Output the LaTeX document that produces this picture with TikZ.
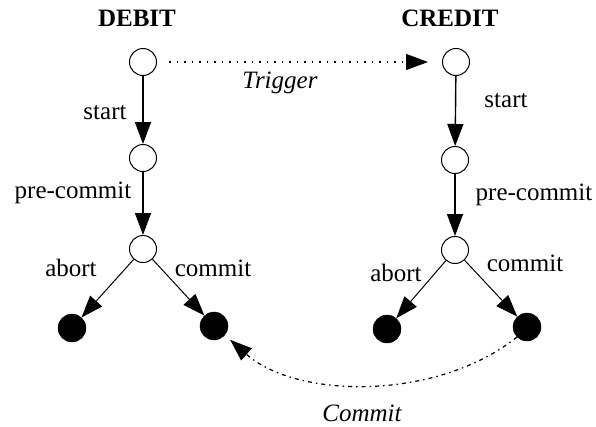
\documentclass[tikz,border=0pt]{standalone}
\usepackage{fontspec}
\setmainfont{Liberation Serif}
\usetikzlibrary{arrows.meta}
\begin{document}
\begin{tikzpicture}[x=1pt,y=-1pt,
  state/.style={circle,draw,line width=1pt,fill=white,minimum size=27pt,inner sep=0pt},
  final/.style={circle,draw,fill=black,minimum size=28pt,inner sep=0pt},
  lbl/.style={font=\fontsize{25}{30}\selectfont,inner sep=0pt},
  title/.style={font=\fontsize{25}{30}\selectfont\bfseries,inner sep=0pt},
  tip/.style={-{Triangle[length=22pt,width=16pt]}},
  step arrow/.style={tip,line width=1.4pt},
  branch/.style={tip,line width=1pt},
  msg/.style={tip,line width=1.2pt,dash pattern=on 1.5pt off 6pt}]
\useasboundingbox (0,0) rectangle (596,426);
% column headings
\node[title] (dh) at (137,18) {DEBIT};
\node[title] (ch) at (450,18) {CREDIT};
% debit transaction
\node[state] (d0) at (143,62) {};
\node[state] (d1) at (143,158) {};
\node[state] (d2) at (143,249) {};
\node[final] (da) at (72,328) {};
\node[final] (dc) at (214,326) {};
% credit transaction
\node[state] (c0) at (456,62) {};
\node[state] (c1) at (455,160) {};
\node[state] (c2) at (455,250) {};
\node[final] (ca) at (387,329) {};
\node[final] (cc) at (527,327) {};
% transitions
\draw[step arrow] (d0) -- (d1);
\draw[step arrow] (d1) -- (d2);
\draw[branch] (d2) -- (da);
\draw[branch] (d2) -- (dc);
\draw[step arrow] (c0) -- (c1);
\draw[step arrow] (c1) -- (c2);
\draw[branch] (c2) -- (ca);
\draw[branch] (c2) -- (cc);
% transition labels
\node[lbl] (ls1) at (105,113) {start};
\node[lbl] (lp1) at (73,193) {pre-commit};
\node[lbl] (la1) at (71,268) {abort};
\node[lbl] (lc1) at (213,268) {commit};
\node[lbl] (ls2) at (506,101) {start};
\node[lbl] (lp2) at (534,195) {pre-commit};
\node[lbl] (la2) at (396,273) {abort};
\node[lbl] (lc2) at (525,263) {commit};
% dependencies between the transactions
\draw[msg,shorten <=12pt,shorten >=14pt] (d0) -- (c0);
\node[lbl,font=\fontsize{25}{30}\selectfont\itshape] (trig) at (280,83) {Trigger};
\draw[msg,dash pattern=on 4pt off 4pt on 1.5pt off 4pt,shorten >=7pt]
  (cc.-135) .. controls +(-80,64) and +(72,64) .. (dc.-40);
\node[lbl,font=\fontsize{25}{30}\selectfont\itshape] (comm) at (362,413) {Commit};
\end{tikzpicture}
\end{document}
